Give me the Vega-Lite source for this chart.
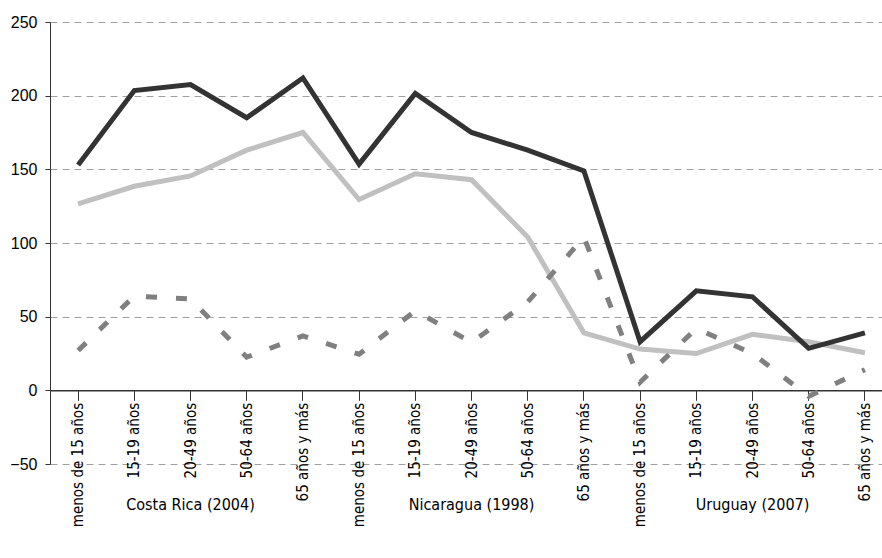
{
  "$schema": "https://vega.github.io/schema/vega-lite/v6.json",
  "width": 832,
  "height": 442,
  "autosize": {"type": "none"},
  "padding": {"left": 50, "top": 22, "right": 0, "bottom": 94},
  "background": "white",
  "config": {"view": {"stroke": null}, "font": "Liberation Sans"},
  "data": {"values": [
    {"series": "Mujeres", "country": "Costa Rica (2004)", "k": "Costa Rica (2004)|menos de 15 años", "value": 126.5},
    {"series": "Mujeres", "country": "Costa Rica (2004)", "k": "Costa Rica (2004)|15-19 años", "value": 138.5},
    {"series": "Mujeres", "country": "Costa Rica (2004)", "k": "Costa Rica (2004)|20-49 años", "value": 145.5},
    {"series": "Mujeres", "country": "Costa Rica (2004)", "k": "Costa Rica (2004)|50-64 años", "value": 163},
    {"series": "Mujeres", "country": "Costa Rica (2004)", "k": "Costa Rica (2004)|65 años y más", "value": 175},
    {"series": "Mujeres", "country": "Nicaragua (1998)", "k": "Nicaragua (1998)|menos de 15 años", "value": 129.5},
    {"series": "Mujeres", "country": "Nicaragua (1998)", "k": "Nicaragua (1998)|15-19 años", "value": 147},
    {"series": "Mujeres", "country": "Nicaragua (1998)", "k": "Nicaragua (1998)|20-49 años", "value": 143},
    {"series": "Mujeres", "country": "Nicaragua (1998)", "k": "Nicaragua (1998)|50-64 años", "value": 104},
    {"series": "Mujeres", "country": "Nicaragua (1998)", "k": "Nicaragua (1998)|65 años y más", "value": 39},
    {"series": "Mujeres", "country": "Uruguay (2007)", "k": "Uruguay (2007)|menos de 15 años", "value": 28},
    {"series": "Mujeres", "country": "Uruguay (2007)", "k": "Uruguay (2007)|15-19 años", "value": 25},
    {"series": "Mujeres", "country": "Uruguay (2007)", "k": "Uruguay (2007)|20-49 años", "value": 38},
    {"series": "Mujeres", "country": "Uruguay (2007)", "k": "Uruguay (2007)|50-64 años", "value": 33},
    {"series": "Mujeres", "country": "Uruguay (2007)", "k": "Uruguay (2007)|65 años y más", "value": 25.5},
    {"series": "Hombres", "country": "Costa Rica (2004)", "k": "Costa Rica (2004)|menos de 15 años", "value": 153},
    {"series": "Hombres", "country": "Costa Rica (2004)", "k": "Costa Rica (2004)|15-19 años", "value": 203.5},
    {"series": "Hombres", "country": "Costa Rica (2004)", "k": "Costa Rica (2004)|20-49 años", "value": 207.5},
    {"series": "Hombres", "country": "Costa Rica (2004)", "k": "Costa Rica (2004)|50-64 años", "value": 185},
    {"series": "Hombres", "country": "Costa Rica (2004)", "k": "Costa Rica (2004)|65 años y más", "value": 212},
    {"series": "Hombres", "country": "Nicaragua (1998)", "k": "Nicaragua (1998)|menos de 15 años", "value": 153.5},
    {"series": "Hombres", "country": "Nicaragua (1998)", "k": "Nicaragua (1998)|15-19 años", "value": 201.5},
    {"series": "Hombres", "country": "Nicaragua (1998)", "k": "Nicaragua (1998)|20-49 años", "value": 175},
    {"series": "Hombres", "country": "Nicaragua (1998)", "k": "Nicaragua (1998)|50-64 años", "value": 163},
    {"series": "Hombres", "country": "Nicaragua (1998)", "k": "Nicaragua (1998)|65 años y más", "value": 149},
    {"series": "Hombres", "country": "Uruguay (2007)", "k": "Uruguay (2007)|menos de 15 años", "value": 33},
    {"series": "Hombres", "country": "Uruguay (2007)", "k": "Uruguay (2007)|15-19 años", "value": 67.5},
    {"series": "Hombres", "country": "Uruguay (2007)", "k": "Uruguay (2007)|20-49 años", "value": 63.5},
    {"series": "Hombres", "country": "Uruguay (2007)", "k": "Uruguay (2007)|50-64 años", "value": 28.5},
    {"series": "Hombres", "country": "Uruguay (2007)", "k": "Uruguay (2007)|65 años y más", "value": 39},
    {"series": "Brecha entre hombres y mujeres", "country": "Costa Rica (2004)", "k": "Costa Rica (2004)|menos de 15 años", "value": 27},
    {"series": "Brecha entre hombres y mujeres", "country": "Costa Rica (2004)", "k": "Costa Rica (2004)|15-19 años", "value": 64},
    {"series": "Brecha entre hombres y mujeres", "country": "Costa Rica (2004)", "k": "Costa Rica (2004)|20-49 años", "value": 62},
    {"series": "Brecha entre hombres y mujeres", "country": "Costa Rica (2004)", "k": "Costa Rica (2004)|50-64 años", "value": 22.5},
    {"series": "Brecha entre hombres y mujeres", "country": "Costa Rica (2004)", "k": "Costa Rica (2004)|65 años y más", "value": 37},
    {"series": "Brecha entre hombres y mujeres", "country": "Nicaragua (1998)", "k": "Nicaragua (1998)|menos de 15 años", "value": 24.5},
    {"series": "Brecha entre hombres y mujeres", "country": "Nicaragua (1998)", "k": "Nicaragua (1998)|15-19 años", "value": 54},
    {"series": "Brecha entre hombres y mujeres", "country": "Nicaragua (1998)", "k": "Nicaragua (1998)|20-49 años", "value": 32.5},
    {"series": "Brecha entre hombres y mujeres", "country": "Nicaragua (1998)", "k": "Nicaragua (1998)|50-64 años", "value": 60},
    {"series": "Brecha entre hombres y mujeres", "country": "Nicaragua (1998)", "k": "Nicaragua (1998)|65 años y más", "value": 104},
    {"series": "Brecha entre hombres y mujeres", "country": "Uruguay (2007)", "k": "Uruguay (2007)|menos de 15 años", "value": 5.5},
    {"series": "Brecha entre hombres y mujeres", "country": "Uruguay (2007)", "k": "Uruguay (2007)|15-19 años", "value": 42},
    {"series": "Brecha entre hombres y mujeres", "country": "Uruguay (2007)", "k": "Uruguay (2007)|20-49 años", "value": 25},
    {"series": "Brecha entre hombres y mujeres", "country": "Uruguay (2007)", "k": "Uruguay (2007)|50-64 años", "value": -4},
    {"series": "Brecha entre hombres y mujeres", "country": "Uruguay (2007)", "k": "Uruguay (2007)|65 años y más", "value": 14}
  ]},
  "layer": [
    {
      "layer": [
        {
          "transform": [{"filter": "datum.series !== 'Brecha entre hombres y mujeres'"}],
          "mark": {"type": "line", "strokeWidth": 5, "strokeCap": "butt"},
          "encoding": {
            "x": {
              "field": "k", "type": "nominal", "sort": null,
              "scale": {"type": "band", "range": [0, 843], "paddingInner": 0, "paddingOuter": 0},
              "axis": {
                "title": null, "orient": "bottom", "offset": -73.67, "grid": false,
                "domainColor": "#333333", "domainWidth": 1.5,
                "tickSize": 10, "tickColor": "#333333", "tickWidth": 1,
                "labelAngle": -90,
                "labelFont": "Liberation Sans Narrow, Arial Narrow, DejaVu Sans Condensed, sans-serif",
                "labelFontSize": 15, "labelColor": "#000000",
                "labelExpr": "split(datum.value, '|')[1]"
              }
            },
            "y": {
              "field": "value", "type": "quantitative",
              "scale": {"domain": [-50, 250], "nice": false, "zero": false},
              "axis": {
                "title": null, "values": [-50, 0, 50, 100, 150, 200, 250],
                "grid": true, "gridColor": "#a0a0a0", "gridDash": [7, 5], "gridWidth": 1,
                "domainColor": "#333333", "domainWidth": 1, "tickColor": "#333333", "tickSize": 5,
                "labelFont": "Liberation Sans", "labelFontSize": 16, "labelColor": "#000000", "labelPadding": 8
              }
            },
            "color": {
              "field": "series", "type": "nominal",
              "scale": {"domain": ["Mujeres", "Hombres", "Brecha entre hombres y mujeres"], "range": ["#c0c0c0", "#333333", "#808080"]},
              "legend": {
                "title": null, "orient": "none", "legendX": 27, "legendY": 516, "direction": "horizontal",
                "symbolType": "stroke", "symbolStrokeWidth": 5, "symbolSize": 5329,
                "labelFont": "Liberation Sans", "labelFontSize": 18, "labelColor": "#000000",
                "labelOffset": 4, "columnPadding": 54, "padding": 0, "labelLimit": 400
              }
            }
          }
        },
        {
          "transform": [{"filter": "datum.series === 'Brecha entre hombres y mujeres'"}],
          "mark": {"type": "line", "strokeWidth": 5, "strokeCap": "butt", "strokeDash": [11, 19]},
          "encoding": {
            "x": {"field": "k", "type": "nominal", "sort": null},
            "y": {"field": "value", "type": "quantitative"},
            "color": {"field": "series", "type": "nominal"}
          }
        }
      ]
    },
    {
      "mark": {"type": "point", "opacity": 0},
      "encoding": {
        "x": {
          "field": "country", "type": "nominal",
          "scale": {"type": "band", "range": [0, 843], "paddingInner": 0, "paddingOuter": 0},
          "axis": {
            "title": null, "orient": "bottom", "offset": 30, "domain": false, "grid": false,
            "ticks": false, "labelAngle": 0,
            "labelFont": "Liberation Sans Narrow, Arial Narrow, DejaVu Sans Condensed, sans-serif",
            "labelFontSize": 16, "labelColor": "#000000"
          }
        }
      }
    }
  ],
  "resolve": {"scale": {"x": "independent"}}
}
